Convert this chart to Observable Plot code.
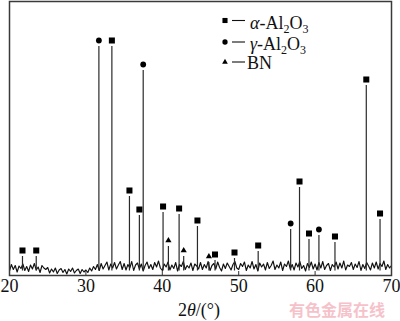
<!DOCTYPE html>
<html><head><meta charset="utf-8">
<script src="https://cdn.jsdelivr.net/npm/d3@7"></script>
<script src="https://cdn.jsdelivr.net/npm/@observablehq/plot@0.6"></script>
<style>
html,body{margin:0;padding:0;background:#fff;}
#chart{position:relative;width:400px;height:321px;}
</style></head><body><div id="chart"></div>
<script>
// x-axis ticks (2θ, degrees)
const xTicks = [20, 30, 40, 50, 60, 70];

// background noise of the diffraction pattern, sampled every 0.25° from 20°
const noiseStart = 20;
const noiseStep = 0.25;
const noise = [
  18, 44, 24, 40, 14, 38, 28, 46, 20, 36, 16, 42, 26, 48, 22, 34, 12, 40, 30, 24,
  32, 10, 26, 14, 30, 8, 22, 28, 12, 24, 6, 26, 16, 30, 10, 20, 26, 8, 24, 14,
  22, 12, 30, 18, 36, 24, 44, 20, 48, 26, 40, 54, 22, 46, 30, 52, 26, 42, 56, 24,
  48, 22, 44, 30, 56, 20, 42, 50, 26, 46, 18, 40, 54, 28, 44, 24, 52, 34, 58, 30,
  20, 46, 34, 54, 22, 42, 28, 52, 18, 44, 36, 56, 24, 40, 30, 50, 20, 46, 38, 26,
  52, 24, 44, 30, 56, 20, 40, 48, 26, 54, 32, 18, 46, 28, 50, 36, 22, 44, 56, 30,
  24, 48, 36, 54, 20, 42, 30, 56, 26, 44, 18, 50, 34, 46, 22, 52, 28, 40, 58, 24,
  42, 30, 54, 20, 46, 36, 58, 26, 44, 22, 50, 34, 56, 28, 40, 18, 48, 32, 54, 26,
  46, 22, 52, 30, 56, 24, 40, 48, 20, 44, 34, 54, 26, 50, 30, 58, 22, 42, 36, 52,
  24, 46, 32, 56, 20, 44, 28, 52, 38, 22, 50, 30, 54, 26, 48, 36, 58, 24, 44, 30,
  40
];

// indexed peaks
const peakPos   = [21.7, 23.5, 31.7, 33.4, 35.7, 37.0, 37.5, 40.1, 40.8, 42.2, 42.8, 44.6, 46.1, 46.9, 49.45, 52.55, 56.8, 57.96, 59.2, 60.5, 62.6, 66.7, 68.5];
const peakInt   = [76, 76, 916, 916, 316, 240, 820, 252, 116, 244, 76, 196, 52, 60, 68, 96, 184, 352, 144, 160, 132, 760, 224];
const peakPhase = ["a","a","g","a","a","a","g","a","b","a","b","a","b","a","a","a","g","a","a","g","a","a","a"];

// legend / phase symbols
const phaseKeys   = ["a", "g", "b"];
const phaseSymbol = ["square", "circle", "triangle"];
const phaseR      = [3.4, 2.9, 2.3];

const noiseData = noise.map((v, i) => ({x: noiseStart + i * noiseStep, y: v}));
const peaks = peakPos.map((p, i) => ({x: p, y: peakInt[i], phase: peakPhase[i]}));

const dotMarks = phaseKeys.map((k, j) =>
  Plot.dot(peaks.filter(d => d.phase === k), {
    x: "x", y: "y", dy: -6, symbol: phaseSymbol[j], r: phaseR[j], fill: "#000", stroke: "none"
  })
);

const plot = Plot.plot({
  width: 400, height: 321,
  marginTop: 1, marginLeft: 9, marginRight: 9, marginBottom: 46,
  x: {domain: [20, 70]},
  y: {domain: [0, 1096], axis: null},
  style: {fontFamily: "'Liberation Serif', 'Times New Roman', serif", fontSize: "18px", background: "white", color: "#111"},
  marks: [
    Plot.lineY(noiseData, {x: "x", y: "y", stroke: "#111", strokeWidth: 1.15}),
    Plot.ruleX(peaks, {x: "x", y1: 18, y2: "y", stroke: "#2a2a2a", strokeWidth: 1.2}),
    ...dotMarks,
    Plot.axisX({ticks: xTicks, tickSize: -4, tickFormat: () => "", label: null, stroke: "#333"}),
    Plot.axisX({ticks: xTicks, tickSize: 0, tickPadding: 4, label: null, tickFormat: d3.format("d"), fill: "#111"}),
    Plot.frame({stroke: "#3a3a3a", strokeWidth: 1.5})
  ]
});
document.getElementById("chart").appendChild(plot);

const svg = d3.select(plot);
const serif = "'Liberation Serif', 'Times New Roman', serif";

// legend
const legendRows = [
  {sym: d3.symbolSquare, size: 26, cy: 20.5, base: 29, x: 250, parts: [["α", "i"], ["-Al", ""], ["2", "s"], ["O", ""], ["3", "s"]]},
  {sym: d3.symbolCircle, size: 22, cy: 42, base: 50, x: 250, parts: [["γ", "i"], ["-Al", ""], ["2", "s"], ["O", ""], ["3", "s"]]},
  {sym: d3.symbolTriangle, size: 14, cy: 62, base: 69, x: 247, parts: [["BN", ""]]}
];
const lg = svg.append("g").attr("text-anchor", "start");
legendRows.forEach(r => {
  lg.append("path").attr("d", d3.symbol(r.sym, r.size)()).attr("transform", `translate(225,${r.cy})`).attr("fill", "#000");
  lg.append("line").attr("x1", 232).attr("x2", 245).attr("y1", r.cy).attr("y2", r.cy).attr("stroke", "#111").attr("stroke-width", 1.1);
  const t = lg.append("text").attr("x", r.x).attr("y", r.base).attr("text-anchor", "start")
    .attr("font-family", serif).attr("font-size", 18).attr("fill", "#111");
  let shifted = false;
  r.parts.forEach(([s, f]) => {
    const ts = t.append("tspan").text(s);
    if (f === "i") ts.attr("font-style", "italic");
    if (f === "s") { ts.attr("font-size", 12).attr("dy", 4); shifted = true; }
    else if (shifted) { ts.attr("dy", -4); shifted = false; }
  });
});

// x-axis title
const xt = svg.append("text").attr("x", 199).attr("y", 316).attr("text-anchor", "middle")
  .attr("font-family", serif).attr("font-size", 18).attr("fill", "#111");
xt.append("tspan").text("2");
xt.append("tspan").attr("font-style", "italic").text("θ");
xt.append("tspan").text("/(°)");

// watermark
svg.append("text").attr("x", 289).attr("y", 315.5).attr("text-anchor", "start")
  .attr("font-family", "'Noto Sans CJK SC', sans-serif").attr("font-weight", 700).attr("font-size", 16)
  .attr("fill", "#f6c2ca").text("有色金属在线");
</script>
</body></html>
